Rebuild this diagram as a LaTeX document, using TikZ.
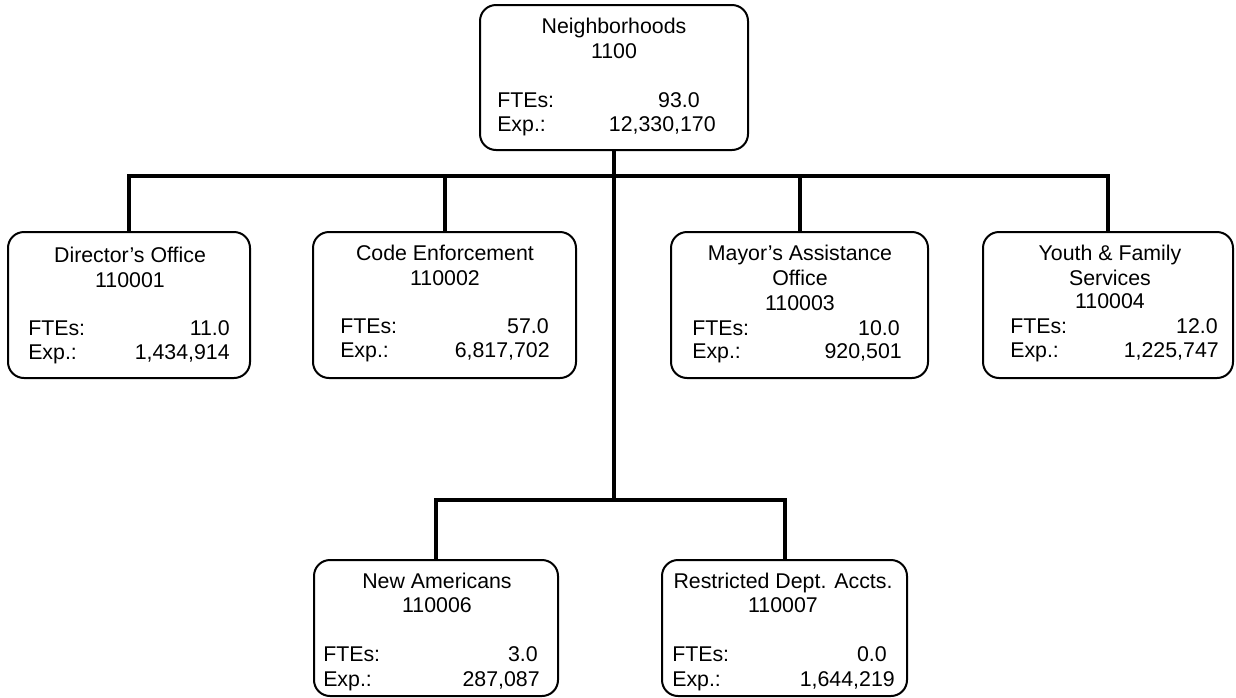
\documentclass[tikz,border=0pt]{standalone}
\usepackage{fontspec}
\setmainfont{Liberation Sans}
\begin{document}
\begin{tikzpicture}[x=0.75pt,y=-0.75pt,
  unitbox/.style={draw=black, line width=1.5pt, rounded corners=12pt, inner sep=0pt},
  conn/.style={draw=black, line width=3pt},
  txt/.style={inner sep=0pt, font=\fontsize{16pt}{19pt}\selectfont},
  ttl/.style={txt, anchor=base},
  lbl/.style={txt, anchor=base west},
  num/.style={txt, anchor=base east}]
\useasboundingbox (0,0) rectangle (1236,697);

% boxes
\node[unitbox, minimum width=201pt, minimum height=108.75pt] (top) at (614,77.5) {};
\node[unitbox, minimum width=181.5pt, minimum height=109.5pt] (dir) at (129,305) {};
\node[unitbox, minimum width=197.25pt, minimum height=109.5pt] (code) at (444.5,305) {};
\node[unitbox, minimum width=192.75pt, minimum height=109.5pt] (mayor) at (799.5,305) {};
\node[unitbox, minimum width=187.5pt, minimum height=109.5pt] (youth) at (1108,305) {};
\node[unitbox, minimum width=183pt, minimum height=102pt] (newam) at (436,628) {};
\node[unitbox, minimum width=183.75pt, minimum height=102pt] (restr) at (784.5,628) {};

% connectors
\coordinate (bus1) at (614,176);
\coordinate (bus2) at (614,500);
\draw[conn] (top.south) -- (bus2);
\draw[conn] (dir.north) |- (bus1) -| (youth.north);
\draw[conn] (code.north) -- (code.north |- bus1);
\draw[conn] (mayor.north) -- (mayor.north |- bus1);
\draw[conn] (newam.north) |- (bus2) -| (restr.north);

% top
\node[ttl] (t1) at (614,33) {Neighborhoods};
\node[ttl] (t2) at (614,58) {1100};
\node[lbl] (t3) at (497,107) {FTEs:};
\node[num] (t4) at (700,107) {93.0};
\node[lbl] (t5) at (497,131) {Exp.:};
\node[num] (t6) at (716,131) {12,330,170};

% director
\node[ttl] (d1) at (130,262) {Director’s Office};
\node[ttl] (d2) at (130,287) {110001};
\node[lbl] (d3) at (28,335) {FTEs:};
\node[num] (d4) at (230,335) {11.0};
\node[lbl] (d5) at (28,359) {Exp.:};
\node[num] (d6) at (230,359) {1,434,914};

% code
\node[ttl] (c1) at (445,260) {Code Enforcement};
\node[ttl] (c2) at (445,285) {110002};
\node[lbl] (c3) at (340,333) {FTEs:};
\node[num] (c4) at (549,333) {57.0};
\node[lbl] (c5) at (340,357) {Exp.:};
\node[num] (c6) at (550,357) {6,817,702};

% mayor
\node[ttl] (m1) at (800,260) {Mayor’s Assistance};
\node[ttl] (m2) at (800,285) {Office};
\node[ttl] (m3) at (800,310) {110003};
\node[lbl] (m4) at (692,335) {FTEs:};
\node[num] (m5) at (900,335) {10.0};
\node[lbl] (m6) at (692,358) {Exp.:};
\node[num] (m7) at (902,358) {920,501};

% youth
\node[ttl] (y1) at (1110,260) {Youth \& Family};
\node[ttl] (y2) at (1110,285) {Services};
\node[ttl] (y3) at (1110,308) {110004};
\node[lbl] (y4) at (1010,333) {FTEs:};
\node[num] (y5) at (1218,333) {12.0};
\node[lbl] (y6) at (1010,357) {Exp.:};
\node[num] (y7) at (1219,357) {1,225,747};

% new americans
\node[ttl] (n1) at (437,588) {New Americans};
\node[ttl] (n2) at (437,612) {110006};
\node[lbl] (n3) at (323,661) {FTEs:};
\node[num] (n4) at (538,661) {3.0};
\node[lbl] (n5) at (323,686) {Exp.:};
\node[num] (n6) at (540,686) {287,087};

% restricted
\node[ttl] (r1) at (783,588) {Restricted Dept. Accts.};
\node[ttl] (r2) at (783,612) {110007};
\node[lbl] (r3) at (672,661) {FTEs:};
\node[num] (r4) at (887,661) {0.0};
\node[lbl] (r5) at (672,686) {Exp.:};
\node[num] (r6) at (895,686) {1,644,219};
\end{tikzpicture}
\end{document}
